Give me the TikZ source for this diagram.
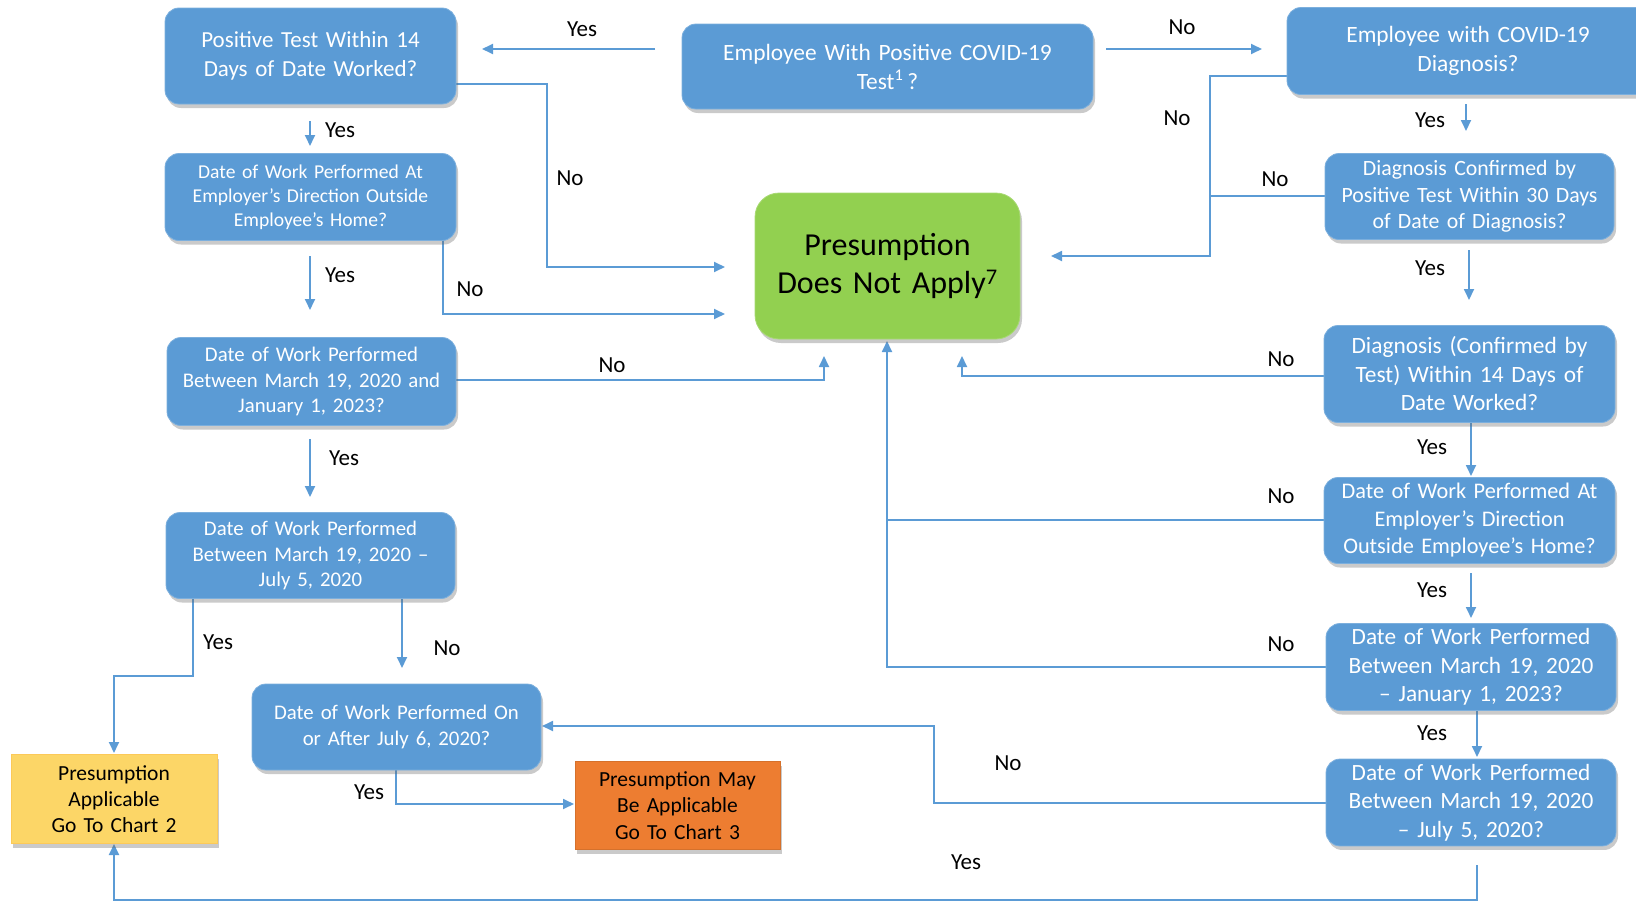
\documentclass[tikz,border=0pt]{standalone}
\usepackage{fontspec}
\setmainfont{Carlito}
\usetikzlibrary{arrows.meta,shadows}
\definecolor{bblue}{HTML}{5B9BD5}
\definecolor{ggreen}{HTML}{92D050}
\definecolor{yyellow}{HTML}{FCD667}
\definecolor{oorange}{HTML}{ED7D31}
\definecolor{lline}{HTML}{5B9BD5}
\newcommand{\myfs}[2]{\fontsize{#1}{#2}\selectfont}
\begin{document}
\begin{tikzpicture}[x=1pt,y=-1pt,
  shad/.style={drop shadow={shadow xshift=2pt,shadow yshift=-4pt,opacity=0.35,fill=black!60}},
  qbox/.style={shad,draw=bblue!80!white,line width=0.8pt,fill=bblue,rounded corners=14pt,
    text=white,align=center,inner sep=5pt},
  gbox/.style={shad,draw=ggreen!80!white,line width=0.8pt,fill=ggreen,rounded corners=24pt,
    text=black,align=center,inner sep=5pt},
  ybox/.style={shad,draw=yyellow!85!orange,line width=0.8pt,fill=yyellow,
    text=black,align=center,inner sep=5pt},
  obox/.style={shad,draw=oorange!90!black,line width=0.8pt,fill=oorange,
    text=black,align=center,inner sep=5pt},
  arr/.style={draw=lline,line width=1.8pt,-{Triangle[length=11pt,width=10pt]}},
  ln/.style={draw=lline,line width=1.8pt},
  lbl/.style={font=\myfs{23}{27},text=black,inner sep=0pt}
]
\useasboundingbox (0,0) rectangle (1636,902);

% ---------- connectors ----------
\draw[arr] (655,49) coordinate (a1) -- (482,49) coordinate (a2);
\draw[arr] (1106,49) coordinate (b1) -- (1262,49) coordinate (b2);
\draw[arr] (310,121) coordinate (c1) -- (310,146) coordinate (c2);
\draw[arr] (456,84) coordinate (d1) -| (547,267) -- (725,267) coordinate (d2);
\draw[arr] (443,238) coordinate (e1) |- (725,314) coordinate (e2);
\draw[arr] (310,256) coordinate (f1) -- (310,310) coordinate (f2);
\draw[arr] (456,380) coordinate (g1) -| (824,356) coordinate (g2);
\draw[arr] (310,439) coordinate (h1) -- (310,497) coordinate (h2);
\draw[arr] (193,598) coordinate (i1) |- (114,676) -- (114,753) coordinate (i2);
\draw[arr] (402,598) coordinate (j1) -- (402,668) coordinate (j2);
\draw[arr] (396,769) coordinate (k1) |- (574,804) coordinate (k2);
\draw[arr] (1287,76) coordinate (l1) -| (1210,256) -- (1051,256) coordinate (l2);
\draw[ln] (1325,196) coordinate (m1) -- (1210,196) coordinate (m2);
\draw[arr] (1466,104) coordinate (n1) -- (1466,131) coordinate (n2);
\draw[arr] (1469,250) coordinate (o1) -- (1469,300) coordinate (o2);
\draw[arr] (1324,376) coordinate (p1) -| (962,356) coordinate (p2);
\draw[arr] (1471,423) coordinate (q1) -- (1471,476) coordinate (q2);
\draw[arr] (1324,520) coordinate (r1) -| (887,341) coordinate (r2c);
\draw[ln] (1326,667) coordinate (s1) -| (887,520) coordinate (s2);
\draw[arr] (1471,573) coordinate (t1c) -- (1471,618) coordinate (t2c);
\draw[arr] (1477,710) coordinate (u1) -- (1477,757) coordinate (u2);
\draw[arr] (1326,803) coordinate (v1) -| (934,726) -- (542,726) coordinate (v2);
\draw[arr] (1477,865) coordinate (w1) |- (114,900) -- (114,844) coordinate (w2);

% ---------- boxes ----------
\node[qbox,text width=281pt,minimum height=96pt,font=\myfs{23}{28.5}] (L1) at (310.5,56)
  {Positive Test Within 14\\Days of Date Worked?};
\node[qbox,text width=281pt,minimum height=87pt,font=\myfs{19.6}{24}] (L2) at (310.5,197)
  {Date of Work Performed At\\Employer’s Direction Outside\\Employee’s Home?};
\node[qbox,text width=279pt,minimum height=88pt,font=\myfs{20.8}{25.5}] (L3) at (311.5,381.5)
  {Date of Work Performed\\Between March 19, 2020 and\\January 1, 2023?};
\node[qbox,text width=279pt,minimum height=86pt,font=\myfs{20.8}{25.5}] (L4) at (310.5,555.5)
  {Date of Work Performed\\Between March 19, 2020 –\\July 5, 2020};
\node[qbox,text width=279pt,minimum height=86pt,font=\myfs{20.8}{25.5}] (L5) at (396.5,727)
  {Date of Work Performed On\\or After July 6, 2020?};
\node[ybox,text width=196pt,minimum height=89pt,font=\myfs{21.5}{26}] (Y) at (114,799)
  {Presumption\\Applicable\\Go To Chart 2};
\node[obox,text width=195pt,minimum height=88pt,font=\myfs{21.5}{26.5}] (O) at (677.5,805.5)
  {Presumption May\\Be Applicable\\Go To Chart 3};
\node[qbox,text width=401pt,minimum height=85pt,font=\myfs{23.4}{29}] (TC) at (887.5,66.5)
  {Employee With Positive COVID-19\\Test\textsuperscript{1}\,?};
\node[gbox,text width=255pt,minimum height=146pt,font=\myfs{32}{38}] (G) at (887.5,266)
  {Presumption\\Does Not Apply\textsuperscript{7}};
\node[qbox,text width=352pt,minimum height=87pt,font=\myfs{23.4}{28.5}] (TR) at (1468,51)
  {Employee with COVID-19\\Diagnosis?};
\node[qbox,text width=279pt,minimum height=86pt,font=\myfs{21.8}{26.5}] (R2) at (1469.5,196.5)
  {Diagnosis Confirmed by\\Positive Test Within 30 Days\\of Date of Diagnosis?};
\node[qbox,text width=281pt,minimum height=97pt,font=\myfs{23.4}{28.5}] (R3) at (1469.5,374)
  {Diagnosis (Confirmed by\\Test) Within 14 Days of\\Date Worked?};
\node[qbox,text width=281pt,minimum height=86pt,font=\myfs{22.3}{27.5}] (R4) at (1469.5,520.5)
  {Date of Work Performed At\\Employer’s Direction\\Outside Employee’s Home?};
\node[qbox,text width=280pt,minimum height=87pt,font=\myfs{23.3}{28.5}] (R5) at (1471,667)
  {Date of Work Performed\\Between March 19, 2020\\– January 1, 2023?};
\node[qbox,text width=280pt,minimum height=86pt,font=\myfs{23.3}{28.5}] (R6) at (1471,802.5)
  {Date of Work Performed\\Between March 19, 2020\\– July 5, 2020?};

% ---------- labels ----------
\node[lbl] (la) at (582,29) {Yes};
\node[lbl] (lb) at (1182,27) {No};
\node[lbl] (lc) at (340,130) {Yes};
\node[lbl] (ld) at (570,178) {No};
\node[lbl] (le) at (470,289) {No};
\node[lbl] (lf) at (340,275) {Yes};
\node[lbl] (lg) at (612,365) {No};
\node[lbl] (lh) at (344,458) {Yes};
\node[lbl] (li) at (218,642) {Yes};
\node[lbl] (lj) at (447,648) {No};
\node[lbl] (lk) at (369,792) {Yes};
\node[lbl] (ll) at (1177,118) {No};
\node[lbl] (lm) at (1275,179) {No};
\node[lbl] (ln) at (1430,120) {Yes};
\node[lbl] (lo) at (1430,268) {Yes};
\node[lbl] (lp) at (1281,359) {No};
\node[lbl] (lq) at (1432,447) {Yes};
\node[lbl] (lr) at (1281,496) {No};
\node[lbl] (ls) at (1281,644) {No};
\node[lbl] (lt) at (1432,590) {Yes};
\node[lbl] (lu) at (1432,733) {Yes};
\node[lbl] (lv) at (1008,763) {No};
\node[lbl] (lw) at (966,862) {Yes};
\end{tikzpicture}
\end{document}
